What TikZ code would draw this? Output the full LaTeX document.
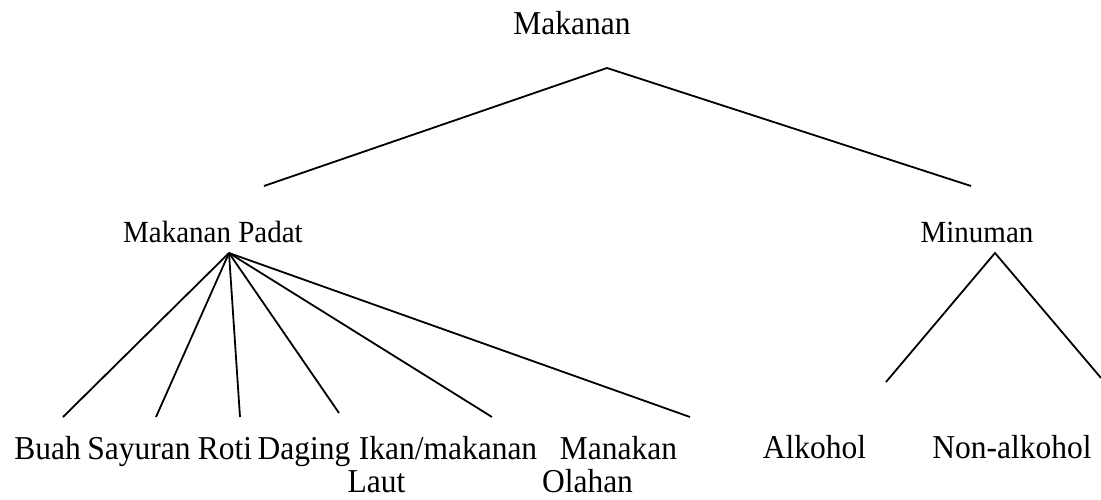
\documentclass[tikz,border=0pt]{standalone}
\usepackage{fontspec}
\usepackage{graphicx}
\setmainfont{Liberation Serif}
\newcommand{\tallt}[1]{\scalebox{1}[1.06]{#1}}
\begin{document}
\begin{tikzpicture}[x=1pt,y=-1pt,
  big/.style={anchor=base,inner sep=0pt,font=\fontsize{31.5}{36}\selectfont},
  mid/.style={anchor=base,inner sep=0pt,font=\fontsize{29}{33}\selectfont},
  edge/.style={line width=1.8pt,line cap=butt}]
\useasboundingbox (0,0) rectangle (1101,500);
% labels
\node[big] (makanan) at (572,35) {\tallt{Makanan}};
\node[mid] (padat) at (213,242) {\tallt{Makanan Padat}};
\node[mid] (minuman) at (977,242) {\tallt{Minuman}};
\node[big] (buah) at (47.5,459) {\tallt{Buah}};
\node[big] (sayuran) at (139,459) {\tallt{Sayuran}};
\node[big] (roti) at (225,459) {\tallt{Roti}};
\node[big] (daging) at (304,459) {\tallt{Daging}};
\node[big] (ikan) at (448,459) {\tallt{Ikan/makanan}};
\node[big] (laut) at (376.5,492) {\tallt{Laut}};
\node[big] (manakan) at (618.5,459) {\tallt{Manakan}};
\node[big] (olahan) at (587.5,492) {\tallt{Olahan}};
\node[big] (alkohol) at (814.5,458) {\tallt{Alkohol}};
\node[big] (nonalk) at (1012,458) {\tallt{Non-alkohol}};
% connector points
\coordinate (apex) at (607,68);
\coordinate (padatTop) at (264,186);
\coordinate (minumanTop) at (971,186);
\coordinate (hub) at (229,253);
\coordinate (buahTop) at (63,417);
\coordinate (sayuranTop) at (156,417);
\coordinate (rotiTop) at (240,417);
\coordinate (dagingTop) at (339,413);
\coordinate (ikanTop) at (492,417);
\coordinate (manakanTop) at (690,417);
\coordinate (minApex) at (995,253);
\coordinate (alkoholTop) at (886,382);
\coordinate (nonalkTop) at (1101,378);
% connectors
\draw[edge] (padatTop) -- (apex) -- (minumanTop);
\foreach \c in {buahTop,sayuranTop,rotiTop,dagingTop,ikanTop,manakanTop}
  \draw[edge] (hub) -- (\c);
\draw[edge] (alkoholTop) -- (minApex) -- (nonalkTop);
\end{tikzpicture}
\end{document}
